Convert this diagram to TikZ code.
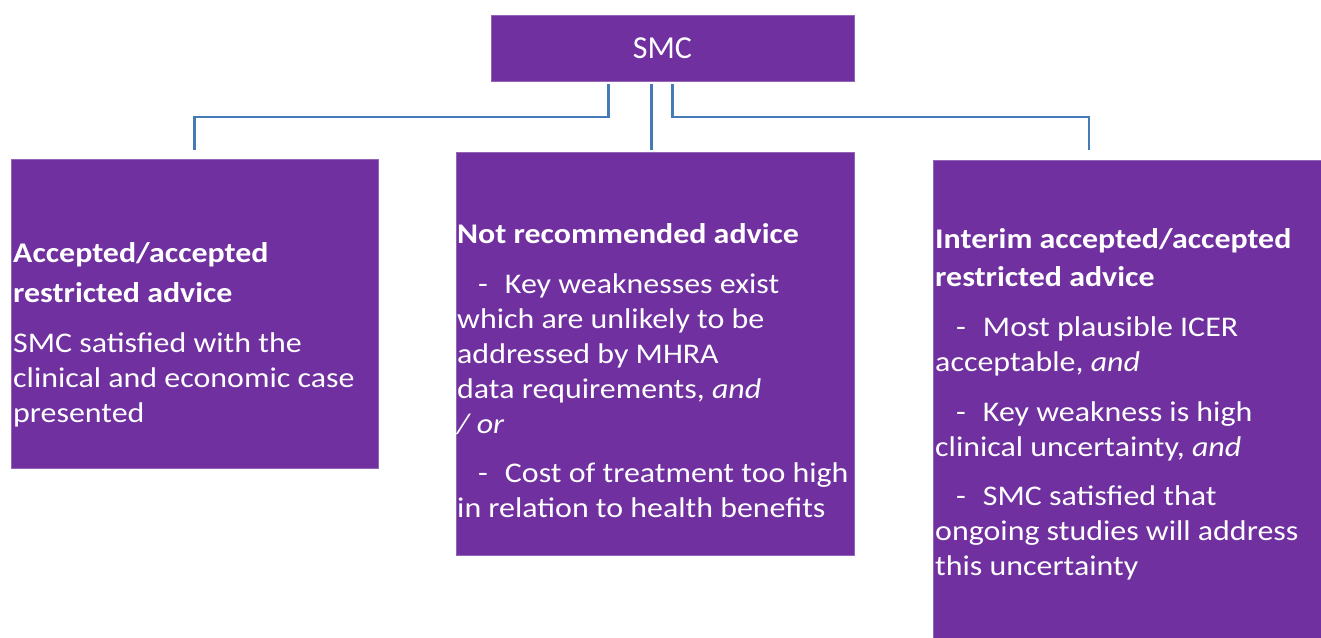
\documentclass[tikz,border=0pt]{standalone}
\usepackage{fontspec}
\setmainfont{Carlito}[FakeStretch=1.12]
\newfontfamily\boxfont{Carlito}
\usetikzlibrary{positioning}
\definecolor{smcpurple}{RGB}{112,48,160}
\definecolor{linkblue}{RGB}{70,122,182}

\begin{document}
\begin{tikzpicture}[x=1pt,y=-1pt,
    box/.style={draw=smcpurple!75!white,fill=smcpurple,line width=0.8pt,
      inner sep=0pt,outer sep=0pt,anchor=north west},
    txt/.style={text=white,align=left,anchor=base west,inner sep=0pt,
      font=\fontsize{28.5}{35}\selectfont},
    link/.style={draw=linkblue,line width=2.3pt}]
  \useasboundingbox (0,0) rectangle (1321,637);

  % boxes
  \node[box,minimum width=363pt,minimum height=66pt,text=white,
    font=\boxfont\fontsize{32}{38}\selectfont] (smc) at (491,15) {SMC\hspace*{20pt}};
  \node[box,minimum width=367pt,minimum height=309pt] (acc) at (11,159) {};
  \node[box,minimum width=398pt,minimum height=403pt] (nrec) at (456,152) {};
  \node[box,minimum width=392pt,minimum height=482pt] (intr) at (933,160) {};

  % texts (anchored on the last line)
  \node[txt] (acctxt) at (13,422) {\textbf{Accepted/accepted}\\[5pt]
    \textbf{restricted advice}\\[15pt]
    SMC satisfied with the\\
    clinical and economic case\\
    presented};
  \node[txt] (nrectxt) at (457,517) {\textbf{Not recommended advice}\\[15pt]
    \hspace*{21pt}-\hspace*{17pt}Key weaknesses exist\\
    which are unlikely to be\\
    addressed by MHRA\\
    data requirements, \textit{and}\\
    \textit{/ or}\\[14pt]
    \hspace*{21pt}-\hspace*{17pt}Cost of treatment too high\\
    in relation to health benefits};
  \node[txt] (intrtxt) at (935,575) {\textbf{Interim accepted/accepted}\\[3pt]
    \textbf{restricted advice}\\[15pt]
    \hspace*{21pt}-\hspace*{17pt}Most plausible ICER\\
    acceptable, \textit{and}\\[15pt]
    \hspace*{21pt}-\hspace*{17pt}Key weakness is high\\
    clinical uncertainty, \textit{and}\\[14pt]
    \hspace*{21pt}-\hspace*{17pt}SMC satisfied that\\
    ongoing studies will address\\
    this uncertainty};

  % connectors
  \draw[link] ([xshift=-64pt,yshift=-3pt]smc.south) |- ([yshift=42pt]acc.north)
    -- ([yshift=9pt]acc.north);
  \draw[link] ([xshift=-21pt,yshift=-3pt]smc.south) -- ++(0,66);
  \draw[link] ([yshift=-3pt]smc.south) |- ([xshift=-40pt,yshift=43pt]intr.north)
    -- ([xshift=-40pt,yshift=10pt]intr.north);
\end{tikzpicture}
\end{document}
